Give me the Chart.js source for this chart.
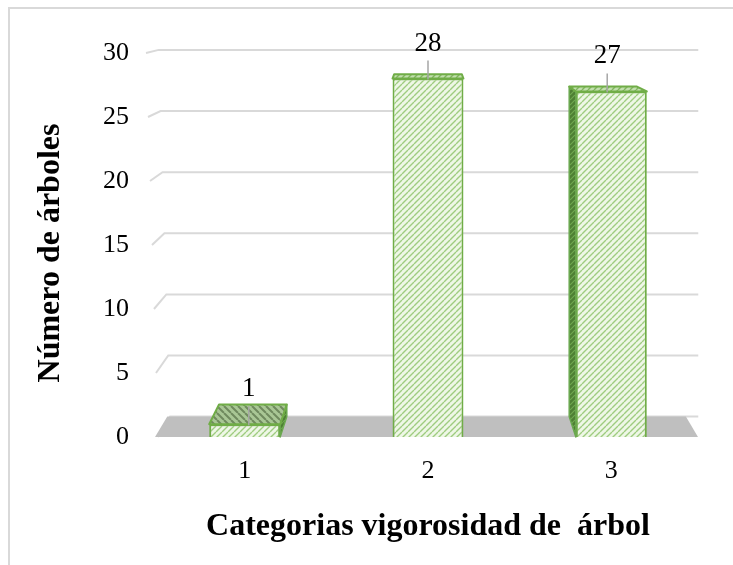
<!DOCTYPE html>
<html><head><meta charset="utf-8">
<script src="https://cdn.jsdelivr.net/npm/chart.js@4.4.1/dist/chart.umd.min.js"></script>
<style>html,body{margin:0;padding:0;background:#fff;}#wrap{position:relative;width:733px;height:565px;}</style>
</head><body><div id="wrap"><canvas id="c" width="733" height="565"></canvas></div>
<script>
const categories = ['1', '2', '3'];
const treeCounts = [1, 28, 27];
const yTickValues = [0, 5, 10, 15, 20, 25, 30];
const xTitle = 'Categorias vigorosidad de  árbol';
const yTitle = 'Número de árboles';

const FONT = "'Liberation Serif', 'Times New Roman', serif";
const K = 0.955, VPY = -16;

function makePattern(base, stripe, size, dir, lw) {
  const c = document.createElement('canvas');
  c.width = size; c.height = size;
  const g = c.getContext('2d');
  g.fillStyle = base; g.fillRect(0, 0, size, size);
  g.strokeStyle = stripe; g.lineWidth = lw;
  g.beginPath();
  for (let o = -size; o <= size; o += size) {
    if (dir > 0) { g.moveTo(o, size); g.lineTo(o + size, 0); }
    else { g.moveTo(o, 0); g.lineTo(o + size, size); }
  }
  g.stroke();
  return g.createPattern(c, 'repeat');
}
const frontPat = makePattern('#eef7e6', '#9fcc80', 6, 1, 1.4);
const topPat = makePattern('#c2dfae', '#80b45f', 6, 1, 1.4);
const topPatLow = makePattern('#a9c795', '#6f8a5e', 7, -1, 2);
const sidePat = makePattern('#4e7f34', '#6fa850', 5, 1, 1.2);

function proj(vx, x, y, k) { k = k || K; return [vx + (x - vx) * k, VPY + (y - VPY) * k]; }

const deco = {
  id: 'deco',
  beforeDraw(chart) {
    const ctx = chart.ctx;
    ctx.save();
    ctx.fillStyle = '#fff'; ctx.fillRect(0, 0, chart.width, chart.height);
    ctx.strokeStyle = '#d9d9d9'; ctx.lineWidth = 2;
    ctx.beginPath(); ctx.moveTo(9, chart.height); ctx.lineTo(9, 8); ctx.lineTo(chart.width, 8); ctx.stroke();
    ctx.restore();
  },
  beforeDatasetsDraw(chart) {
    const ctx = chart.ctx, a = chart.chartArea, ys = chart.scales.y;
    const vx = (a.left + a.right) / 2;
    ctx.save();
    ctx.strokeStyle = '#d9d9d9'; ctx.lineWidth = 2;
    yTickValues.forEach(v => {
      const yf = ys.getPixelForValue(v);
      const sx = a.left - 7 + 12 * (ys.max - v) / ys.max;
      const bl = proj(vx, sx, yf), br = proj(vx, a.right + 8, yf);
      ctx.beginPath(); ctx.moveTo(sx, yf); ctx.lineTo(bl[0], bl[1]); ctx.lineTo(br[0], br[1]); ctx.stroke();
    });
    const y0 = ys.getPixelForValue(0);
    const fl = a.left + 2, fr = a.right - 5;
    const bl = proj(vx, fl, y0), br = proj(vx, fr, y0);
    ctx.fillStyle = '#bfbfbf';
    ctx.beginPath(); ctx.moveTo(fl, y0); ctx.lineTo(fr, y0); ctx.lineTo(br[0], br[1]); ctx.lineTo(bl[0], bl[1]); ctx.closePath(); ctx.fill();
    ctx.restore();
  },
  afterDatasetsDraw(chart) {
    const ctx = chart.ctx, a = chart.chartArea;
    const vx = (a.left + a.right) / 2;
    const meta = chart.getDatasetMeta(0);
    ctx.save();
    ctx.lineJoin = 'round';
    meta.data.forEach((bar, i) => {
      const p = bar.getProps(['x', 'y', 'base', 'width'], true);
      const l = p.x - p.width / 2, r = p.x + p.width / 2, t = p.y, b = p.base;
      let side = null;
      if (p.x < vx - 20) side = r; else if (p.x > vx + 20) side = l;
      if (side !== null) {
        const st = proj(vx, side, t), sb = proj(vx, side, b);
        ctx.fillStyle = sidePat; ctx.strokeStyle = '#6aa84f'; ctx.lineWidth = 1.5;
        ctx.beginPath(); ctx.moveTo(side, t); ctx.lineTo(side, b); ctx.lineTo(sb[0], sb[1]); ctx.lineTo(st[0], st[1]); ctx.closePath(); ctx.fill(); ctx.stroke();
      }
      const tl = proj(vx, l, t), tr = proj(vx, r, t);
      ctx.fillStyle = (b - t) < 30 ? topPatLow : topPat;
      ctx.strokeStyle = '#70ad47'; ctx.lineWidth = 2;
      ctx.beginPath(); ctx.moveTo(l, t); ctx.lineTo(r, t); ctx.lineTo(tr[0], tr[1]); ctx.lineTo(tl[0], tl[1]); ctx.closePath(); ctx.fill(); ctx.stroke();
      const lx = proj(vx, p.x, t, (1 + K) / 2)[0];
      const ly = t - 35;
      ctx.strokeStyle = '#a6a6a6'; ctx.lineWidth = 1.5;
      ctx.beginPath(); ctx.moveTo(lx, ly + 17); ctx.lineTo(lx, t + 1); ctx.stroke();
      ctx.fillStyle = '#000'; ctx.font = '27px ' + FONT;
      ctx.textAlign = 'center'; ctx.textBaseline = 'middle';
      ctx.fillText(String(treeCounts[i]), lx, ly);
    });
    ctx.restore();
  }
};

new Chart(document.getElementById('c'), {
  type: 'bar',
  data: {
    labels: categories,
    datasets: [{
      data: treeCounts,
      backgroundColor: frontPat,
      borderColor: '#70ad47',
      borderWidth: 2,
      barPercentage: 0.387,
      categoryPercentage: 1.0
    }]
  },
  options: {
    responsive: false,
    animation: false,
    devicePixelRatio: 1,
    layout: { padding: { top: 53, right: 30, left: 0, bottom: 0 } },
    plugins: { legend: { display: false }, tooltip: { enabled: false } },
    scales: {
      x: {
        grid: { display: false, drawTicks: false },
        border: { display: false },
        ticks: { color: '#000', font: { family: FONT, size: 26 }, padding: 19 },
        title: { display: true, text: xTitle, color: '#000', font: { family: FONT, size: 32, weight: 'bold' }, padding: { top: 0, bottom: 19 } },
        afterFit(s) { s.height = 128; }
      },
      y: {
        min: 0, max: 30,
        grid: { display: false, drawTicks: false },
        border: { display: false },
        ticks: { stepSize: 5, color: '#000', font: { family: FONT, size: 26 }, padding: 24 },
        title: { display: true, text: yTitle + '  ', color: '#000', font: { family: FONT, size: 32, weight: 'bold' }, padding: { top: 32, bottom: 0 } },
        afterFit(s) { s.width = 153; }
      }
    }
  },
  plugins: [deco]
});
</script></body></html>
